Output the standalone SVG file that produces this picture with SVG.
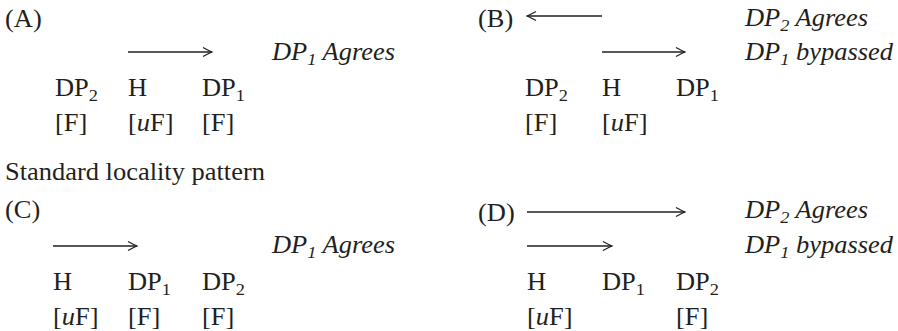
<svg xmlns="http://www.w3.org/2000/svg" width="898" height="331" viewBox="0 0 898 331">
  <style>
    text { font-family: "Liberation Serif", "Times New Roman", serif; font-size: 24.5px; fill: #231f20; }
    .it { font-style: italic; }
    .sub { font-size: 17px; }
    .arr { stroke: #231f20; stroke-width: 1.3; fill: none; marker-end: url(#head); }
  </style>
  <defs>
    <marker id="head" markerUnits="userSpaceOnUse" markerWidth="14" markerHeight="12" viewBox="-11 -6 13 12" refX="0" refY="0" orient="auto">
      <path d="M -9 -4.5 Q -3 -1.2 0 0 Q -3 1.2 -9 4.5" stroke="#231f20" stroke-width="1.2" fill="none"/>
    </marker>
  </defs>
  <rect width="898" height="331" fill="#ffffff"/>

  <g id="connectors">
    <line class="arr" x1="128" y1="52" x2="212" y2="52"/>
    <line class="arr" x1="602" y1="16" x2="527" y2="16"/>
    <line class="arr" x1="602" y1="52" x2="685" y2="52"/>
    <line class="arr" x1="53" y1="246" x2="137" y2="246"/>
    <line class="arr" x1="527" y1="212" x2="685" y2="212"/>
    <line class="arr" x1="527" y1="246" x2="612" y2="246"/>
  </g>

  <g id="panelA">
    <text transform="translate(5,27) scale(1.08 1)">(A)</text>
    <text class="it" transform="translate(272,60) scale(1.08 1)">DP<tspan class="sub" dy="5">1</tspan><tspan dy="-5"> Agrees</tspan></text>
    <g id="A-DP2"><text transform="translate(55,96) scale(1.08 1)">DP<tspan class="sub" dy="5">2</tspan></text>
      <text transform="translate(55,131) scale(1.08 1)">[F]</text></g>
    <g id="A-H"><text transform="translate(128,96) scale(1.08 1)">H</text>
      <text transform="translate(128,131) scale(1.08 1)">[<tspan class="it">u</tspan>F]</text></g>
    <g id="A-DP1"><text transform="translate(202,96) scale(1.08 1)">DP<tspan class="sub" dy="5">1</tspan></text>
      <text transform="translate(202,131) scale(1.08 1)">[F]</text></g>
  </g>

  <g id="panelB">
    <text transform="translate(478,27) scale(1.08 1)">(B)</text>
    <text class="it" transform="translate(745,26) scale(1.08 1)">DP<tspan class="sub" dy="5">2</tspan><tspan dy="-5"> Agrees</tspan></text>
    <text class="it" transform="translate(745,60) scale(1.08 1)">DP<tspan class="sub" dy="5">1</tspan><tspan dy="-5"> bypassed</tspan></text>
    <g id="B-DP2"><text transform="translate(525,96) scale(1.08 1)">DP<tspan class="sub" dy="5">2</tspan></text>
      <text transform="translate(525,131) scale(1.08 1)">[F]</text></g>
    <g id="B-H"><text transform="translate(602,96) scale(1.08 1)">H</text>
      <text transform="translate(602,131) scale(1.08 1)">[<tspan class="it">u</tspan>F]</text></g>
    <g id="B-DP1"><text transform="translate(676,96) scale(1.08 1)">DP<tspan class="sub" dy="5">1</tspan></text></g>
  </g>

  <g id="caption">
    <text transform="translate(5,180) scale(1.08 1)">Standard locality pattern</text>
  </g>

  <g id="panelC">
    <text transform="translate(5,218) scale(1.08 1)">(C)</text>
    <text class="it" transform="translate(272,253) scale(1.08 1)">DP<tspan class="sub" dy="5">1</tspan><tspan dy="-5"> Agrees</tspan></text>
    <g id="C-H"><text transform="translate(53,290) scale(1.08 1)">H</text>
      <text transform="translate(53,325) scale(1.08 1)">[<tspan class="it">u</tspan>F]</text></g>
    <g id="C-DP1"><text transform="translate(128,290) scale(1.08 1)">DP<tspan class="sub" dy="5">1</tspan></text>
      <text transform="translate(128,325) scale(1.08 1)">[F]</text></g>
    <g id="C-DP2"><text transform="translate(202,290) scale(1.08 1)">DP<tspan class="sub" dy="5">2</tspan></text>
      <text transform="translate(202,325) scale(1.08 1)">[F]</text></g>
  </g>

  <g id="panelD">
    <text transform="translate(478,221) scale(1.08 1)">(D)</text>
    <text class="it" transform="translate(745,218) scale(1.08 1)">DP<tspan class="sub" dy="5">2</tspan><tspan dy="-5"> Agrees</tspan></text>
    <text class="it" transform="translate(745,253) scale(1.08 1)">DP<tspan class="sub" dy="5">1</tspan><tspan dy="-5"> bypassed</tspan></text>
    <g id="D-H"><text transform="translate(527,290) scale(1.08 1)">H</text>
      <text transform="translate(527,325) scale(1.08 1)">[<tspan class="it">u</tspan>F]</text></g>
    <g id="D-DP1"><text transform="translate(602,290) scale(1.08 1)">DP<tspan class="sub" dy="5">1</tspan></text></g>
    <g id="D-DP2"><text transform="translate(676,290) scale(1.08 1)">DP<tspan class="sub" dy="5">2</tspan></text>
      <text transform="translate(676,325) scale(1.08 1)">[F]</text></g>
  </g>
</svg>
